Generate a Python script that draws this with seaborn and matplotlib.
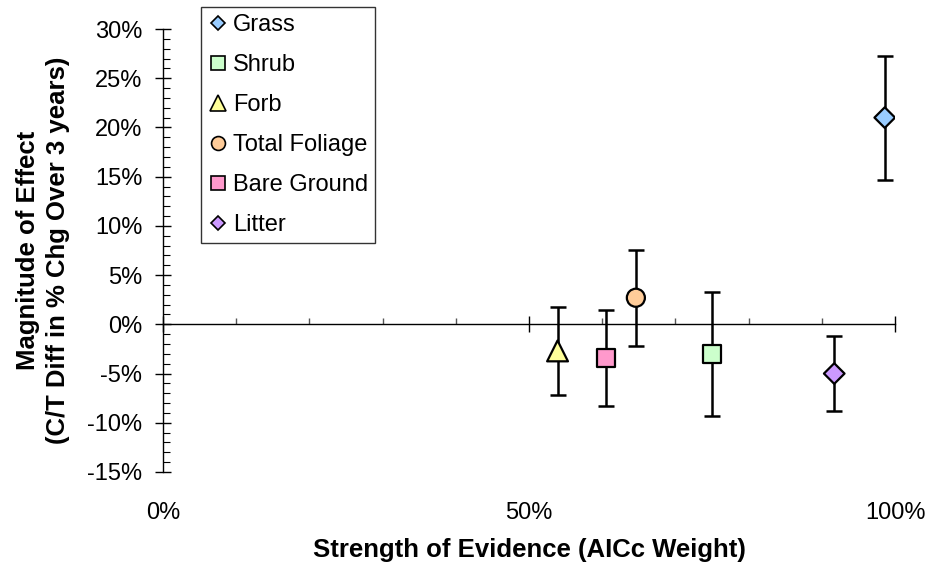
import pandas as pd
import matplotlib.pyplot as plt
import seaborn as sns
from matplotlib.lines import Line2D
from matplotlib.ticker import MultipleLocator, FuncFormatter

# Data
covers = ["Grass", "Shrub", "Forb", "Total Foliage", "Bare Ground", "Litter"]
weight = [98.6, 75.0, 53.9, 64.6, 60.5, 91.7]      # AICc weight, %
effect = [21.0, -3.0, -2.7, 2.7, -3.4, -5.0]        # % change difference
err = [6.3, 6.3, 4.5, 4.9, 4.9, 3.8]                # +/- error bar
colors = ["#99CCFF", "#CCFFCC", "#FFFF99", "#FFCC99", "#FF99CC", "#CC99FF"]
markers = ["D", "s", "^", "o", "s", "D"]
sizes = [10.5, 13, 15, 13, 13, 10.5]

df = pd.DataFrame({"cover": covers, "weight": weight, "effect": effect, "err": err})

sns.set_style("white")
plt.rcParams["font.family"] = ["Liberation Sans", "DejaVu Sans"]
plt.rcParams["text.color"] = "black"
plt.rcParams["axes.labelcolor"] = "black"
plt.rcParams["xtick.color"] = "black"
plt.rcParams["ytick.color"] = "black"

fig = plt.figure(figsize=(9.3, 5.73), dpi=100)
ax = fig.add_axes([163 / 930, 1 - 472 / 573, 732 / 930, 443 / 573])

# error bars behind markers
ax.errorbar(df["weight"], df["effect"], yerr=df["err"], fmt="none",
            ecolor="black", elinewidth=1.8, capsize=5.5, capthick=1.8, zorder=2)

sns.scatterplot(data=df, x="weight", y="effect", hue="cover", style="cover",
                palette=dict(zip(covers, colors)), markers=dict(zip(covers, markers)),
                size="cover", sizes=dict(zip(covers, [s ** 2 for s in sizes])),
                edgecolor="black", linewidth=1.6, legend=False, zorder=3, ax=ax)

ax.set_xlim(0, 100)
ax.set_ylim(-15, 30)

# axes styling: x axis crosses at y=0, labels at the bottom
for s in ["top", "right"]:
    ax.spines[s].set_visible(False)
ax.spines["bottom"].set_position(("data", 0))
for s in ["bottom", "left"]:
    ax.spines[s].set_linewidth(1.0)
    ax.spines[s].set_color("black")

ax.xaxis.set_major_locator(MultipleLocator(50))
ax.xaxis.set_minor_locator(MultipleLocator(10))
ax.yaxis.set_major_locator(MultipleLocator(5))
ax.yaxis.set_minor_locator(MultipleLocator(1))
ax.yaxis.set_major_formatter(FuncFormatter(lambda v, p: f"{v:.0f}%"))

ax.tick_params(axis="x", which="major", direction="inout", length=11, width=1,
               labelbottom=False, bottom=True, color="black")
ax.tick_params(axis="x", which="minor", direction="in", length=4, width=1,
               bottom=True, color="#555555")
ax.tick_params(axis="y", which="major", direction="inout", length=11, width=1,
               left=True, labelsize=17, pad=9.5, color="black", labelcolor="black")
ax.tick_params(axis="y", which="minor", direction="in", length=5, width=0.8,
               left=True, color="black")

sec = ax.secondary_xaxis("bottom")
sec.spines["bottom"].set_visible(False)
sec.set_xticks([0, 50, 100])
sec.set_xticklabels(["0%", "50%", "100%"])
sec.tick_params(length=0, pad=21.5, labelsize=17, labelcolor="black")
sec.set_xlabel("Strength of Evidence (AICc Weight)", fontsize=18.5,
               fontweight="bold", labelpad=10, color="black")

ax.set_xlabel("")
ax.set_ylabel("Magnitude of Effect\n(C/T Diff in % Chg Over 3 years)",
              fontsize=18.5, fontweight="bold", labelpad=12, linespacing=1.35,
              color="black")

# legend
leg_sizes = [7.5, 10, 11, 10, 10, 7.5]
handles = [Line2D([], [], linestyle="none", marker=m, markersize=s,
                  markerfacecolor=c, markeredgecolor="black", markeredgewidth=1.2)
           for m, s, c in zip(markers, leg_sizes, colors)]
leg = fig.legend(handles, covers, loc="upper left",
                 bbox_to_anchor=(201 / 930, 1 - 7 / 573), frameon=True,
                 fancybox=False, fontsize=17, handlelength=0.85, handletextpad=0.2,
                 labelspacing=0.76, borderpad=0.3, borderaxespad=0)
leg.get_frame().set_edgecolor("black")
leg.get_frame().set_linewidth(1.0)
for t in leg.get_texts():
    t.set_color("black")

fig.savefig("out.png", dpi=100)
